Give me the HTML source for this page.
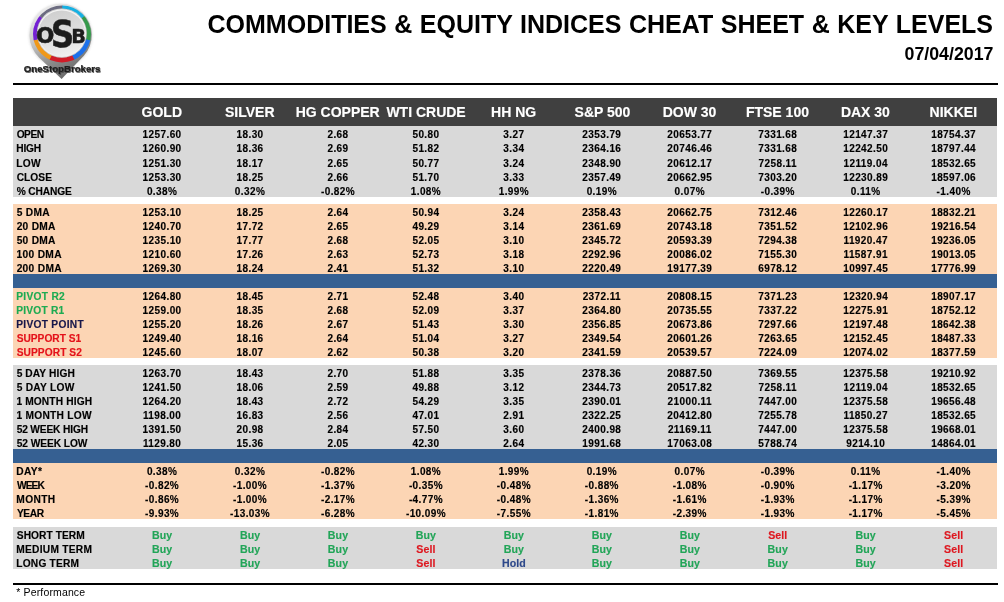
<!DOCTYPE html>
<html lang="en"><head><meta charset="utf-8"><title>Commodities &amp; Equity Indices Cheat Sheet</title>
<style>
html,body{margin:0;padding:0;background:#fff;}
body{width:1004px;height:602px;position:relative;overflow:hidden;font-family:"Liberation Sans",Arial,sans-serif;color:#000;}
.abs{position:absolute;}
.blk{position:absolute;left:13px;width:984px;}
.row{position:absolute;left:0;width:984px;font-weight:bold;font-size:10px;white-space:nowrap;-webkit-text-stroke:0.15px;}
.row span{position:absolute;top:0;}
.lab{left:3.5px;font-size:10.2px;}
.v{width:88px;text-align:center;letter-spacing:0.4px;}
.w{letter-spacing:0.1px;font-size:10.6px;}
.hd{position:absolute;top:0;width:120px;text-align:center;color:#fff;font-weight:bold;font-size:14px;line-height:28px;white-space:nowrap;-webkit-text-stroke:0.15px;}
.g{color:#1dab52;}.r{color:#e4121a;}.b{color:#17174a;}.k{color:#000;}
.Buy{color:#22a558;}.Sell{color:#de1820;}.Hold{color:#2d488a;}
#title{position:absolute;right:11px;top:9px;font-weight:bold;font-size:25px;word-spacing:0.6px;line-height:30px;white-space:nowrap;}
#date{position:absolute;right:10.5px;top:44px;font-weight:bold;font-size:17.8px;line-height:20px;white-space:nowrap;}
#foot{position:absolute;left:16.3px;top:586px;font-size:10.5px;line-height:12px;letter-spacing:0.14px;}
</style></head><body>
<svg class="abs" style="left:0;top:0" width="130" height="84" viewBox="0 0 130 84">
<defs>
<linearGradient id="body" x1="0.1" y1="0" x2="0.55" y2="1"><stop offset="0" stop-color="#f6f6f6"/><stop offset="0.4" stop-color="#c8c8c8"/><stop offset="0.75" stop-color="#8a8a8a"/><stop offset="1" stop-color="#6a6a6a"/></linearGradient>
<linearGradient id="face" x1="0.3" y1="0" x2="0.6" y2="1"><stop offset="0" stop-color="#cfcfcf"/><stop offset="0.55" stop-color="#dedede"/><stop offset="1" stop-color="#f0f0f0"/></linearGradient>
<filter id="sh" x="-20%" y="-40%" width="140%" height="200%"><feGaussianBlur stdDeviation="0.65"/></filter>
<filter id="sh2" x="-20%" y="-20%" width="140%" height="140%"><feGaussianBlur stdDeviation="1.1"/></filter>
</defs>
<circle cx="60.65" cy="35.5" r="31.75" fill="#aaa" opacity="0.35" filter="url(#sh2)"/>
<path d="M39.00 57.40A31.15 31.15 0 1 1 83.60 56.06L61.6 79.1Z" fill="url(#body)"/>
<clipPath id="oc"><ellipse cx="62.0" cy="34.0" rx="29.0" ry="28.4"/></clipPath>
<g clip-path="url(#oc)">
<path d="M62.0 34.0L62.00 -26.00L109.30 -2.92Z" fill="#16b0e2"/>
<path d="M62.0 34.0L108.91 -3.41L120.35 47.96Z" fill="#35994a"/>
<path d="M62.0 34.0L120.50 47.35L87.47 88.33Z" fill="#1c70ea"/>
<path d="M62.0 34.0L88.03 88.06L35.40 87.78Z" fill="#d01c28"/>
<path d="M62.0 34.0L35.97 88.06L3.37 46.74Z" fill="#f09818"/>
<path d="M62.0 34.0L3.50 47.35L15.48 -3.90Z" fill="#7420d4"/>
<path d="M62.0 34.0L15.09 -3.41L62.63 -26.00Z" fill="#6c6c80"/>
</g>
<ellipse cx="61.8" cy="33.1" rx="25.0" ry="24.6" fill="#f4f4f4"/>
<ellipse cx="61.8" cy="33.1" rx="24.7" ry="24.3" fill="none" stroke="#777" stroke-width="0.6" opacity="0.55"/>
<ellipse cx="61.8" cy="33.300000000000004" rx="23.3" ry="22.900000000000002" fill="url(#face)"/>
<g fill="#1c1c1c">
<text transform="translate(36.046 42.677) scale(0.2154 0.2076)" font-family="DejaVu Sans,Liberation Sans,sans-serif" font-weight="bold" font-size="100" stroke-width="3.0" stroke="#1c1c1c">O</text>
<text transform="translate(50.874 47.144) scale(0.3271 0.3778)" font-family="DejaVu Sans,Liberation Sans,sans-serif" font-weight="bold" font-size="100" stroke-width="1.2" stroke="#1c1c1c">S</text>
<text transform="translate(71.352 42.507) scale(0.1935 0.1933)" font-family="DejaVu Sans,Liberation Sans,sans-serif" font-weight="bold" font-size="100" stroke-width="2.0" stroke="#1c1c1c">B</text>
</g>
<text transform="translate(24.611 72.642) scale(0.0964 0.0958)" font-family="Liberation Sans,Liberation Sans,sans-serif" font-weight="bold" font-size="100" stroke-width="2.0" fill="#444" stroke="#444" opacity="0.8" filter="url(#sh)">OneStopBrokers</text>
<text transform="translate(23.811 71.892) scale(0.0964 0.0958)" font-family="Liberation Sans,Liberation Sans,sans-serif" font-weight="bold" font-size="100" stroke-width="2.0" fill="#1e1e1e" stroke="#1e1e1e">OneStopBrokers</text>
</svg>
<div id="title">COMMODITIES &amp; EQUITY INDICES CHEAT SHEET &amp; KEY LEVELS</div>
<div id="date">07/04/2017</div>
<div class="abs" style="left:13px;top:83px;width:985px;height:2px;background:#000"></div>
<div class="blk" style="top:98px;height:28px;background:#404040"><div class="hd" style="left:88.80px">GOLD</div><div class="hd" style="left:176.75px">SILVER</div><div class="hd" style="left:264.70px">HG COPPER</div><div class="hd" style="left:353.05px">WTI CRUDE</div><div class="hd" style="left:440.60px">HH NG</div><div class="hd" style="left:529.45px">S&amp;P 500</div><div class="hd" style="left:616.50px">DOW 30</div><div class="hd" style="left:704.45px">FTSE 100</div><div class="hd" style="left:792.40px">DAX 30</div><div class="hd" style="left:880.35px">NIKKEI</div></div>
<div class="blk" style="top:274px;height:14px;background:#366092"></div>
<div class="blk" style="top:449px;height:14px;background:#366092"></div>
<div class="blk" style="top:126px;height:71px;background:#d9d9d9">
<div class="row" style="top:1.60px;height:14.25px;line-height:13px"><span class="lab k" style="left:3.65px;letter-spacing:-0.467px">OPEN</span><span class="v" style="left:105.10px">1257.60</span><span class="v" style="left:193.05px">18.30</span><span class="v" style="left:281.00px">2.68</span><span class="v" style="left:368.95px">50.80</span><span class="v" style="left:456.90px">3.27</span><span class="v" style="left:544.85px">2353.79</span><span class="v" style="left:632.80px">20653.77</span><span class="v" style="left:720.75px">7331.68</span><span class="v" style="left:808.70px">12147.37</span><span class="v" style="left:896.65px">18754.37</span></div>
<div class="row" style="top:15.60px;height:14.25px;line-height:13px"><span class="lab k" style="left:3.27px;letter-spacing:-0.217px">HIGH</span><span class="v" style="left:105.10px">1260.90</span><span class="v" style="left:193.05px">18.36</span><span class="v" style="left:281.00px">2.69</span><span class="v" style="left:368.95px">51.82</span><span class="v" style="left:456.90px">3.34</span><span class="v" style="left:544.85px">2364.16</span><span class="v" style="left:632.80px">20746.46</span><span class="v" style="left:720.75px">7331.68</span><span class="v" style="left:808.70px">12242.50</span><span class="v" style="left:896.65px">18797.44</span></div>
<div class="row" style="top:31.00px;height:14.25px;line-height:13px"><span class="lab k" style="left:3.27px;letter-spacing:0.275px">LOW</span><span class="v" style="left:105.10px">1251.30</span><span class="v" style="left:193.05px">18.17</span><span class="v" style="left:281.00px">2.65</span><span class="v" style="left:368.95px">50.77</span><span class="v" style="left:456.90px">3.24</span><span class="v" style="left:544.85px">2348.90</span><span class="v" style="left:632.80px">20612.17</span><span class="v" style="left:720.75px">7258.11</span><span class="v" style="left:808.70px">12119.04</span><span class="v" style="left:896.65px">18532.65</span></div>
<div class="row" style="top:44.60px;height:14.25px;line-height:13px"><span class="lab k" style="left:3.65px;letter-spacing:0.069px">CLOSE</span><span class="v" style="left:105.10px">1253.30</span><span class="v" style="left:193.05px">18.25</span><span class="v" style="left:281.00px">2.66</span><span class="v" style="left:368.95px">51.70</span><span class="v" style="left:456.90px">3.33</span><span class="v" style="left:544.85px">2357.49</span><span class="v" style="left:632.80px">20662.95</span><span class="v" style="left:720.75px">7303.20</span><span class="v" style="left:808.70px">12230.89</span><span class="v" style="left:896.65px">18597.06</span></div>
<div class="row" style="top:58.60px;height:14.25px;line-height:13px"><span class="lab k" style="left:3.77px;letter-spacing:-0.146px">% CHANGE</span><span class="v" style="left:105.10px">0.38%</span><span class="v" style="left:193.05px">0.32%</span><span class="v" style="left:281.00px">-0.82%</span><span class="v" style="left:368.95px">1.08%</span><span class="v" style="left:456.90px">1.99%</span><span class="v" style="left:544.85px">0.19%</span><span class="v" style="left:632.80px">0.07%</span><span class="v" style="left:720.75px">-0.39%</span><span class="v" style="left:808.70px">0.11%</span><span class="v" style="left:896.65px">-1.40%</span></div>
</div>
<div class="blk" style="top:204px;height:70px;background:#fcd5b4">
<div class="row" style="top:1.60px;height:14px;line-height:13px"><span class="lab k" style="left:3.65px;letter-spacing:0.312px">5 DMA</span><span class="v" style="left:105.10px">1253.10</span><span class="v" style="left:193.05px">18.25</span><span class="v" style="left:281.00px">2.64</span><span class="v" style="left:368.95px">50.94</span><span class="v" style="left:456.90px">3.24</span><span class="v" style="left:544.85px">2358.43</span><span class="v" style="left:632.80px">20662.75</span><span class="v" style="left:720.75px">7312.46</span><span class="v" style="left:808.70px">12260.17</span><span class="v" style="left:896.65px">18832.21</span></div>
<div class="row" style="top:15.60px;height:14px;line-height:13px"><span class="lab k" style="left:3.65px;letter-spacing:0.280px">20 DMA</span><span class="v" style="left:105.10px">1240.70</span><span class="v" style="left:193.05px">17.72</span><span class="v" style="left:281.00px">2.65</span><span class="v" style="left:368.95px">49.29</span><span class="v" style="left:456.90px">3.14</span><span class="v" style="left:544.85px">2361.69</span><span class="v" style="left:632.80px">20743.18</span><span class="v" style="left:720.75px">7351.52</span><span class="v" style="left:808.70px">12102.96</span><span class="v" style="left:896.65px">19216.54</span></div>
<div class="row" style="top:29.60px;height:14px;line-height:13px"><span class="lab k" style="left:3.65px;letter-spacing:0.280px">50 DMA</span><span class="v" style="left:105.10px">1235.10</span><span class="v" style="left:193.05px">17.77</span><span class="v" style="left:281.00px">2.68</span><span class="v" style="left:368.95px">52.05</span><span class="v" style="left:456.90px">3.10</span><span class="v" style="left:544.85px">2345.72</span><span class="v" style="left:632.80px">20593.39</span><span class="v" style="left:720.75px">7294.38</span><span class="v" style="left:808.70px">11920.47</span><span class="v" style="left:896.65px">19236.05</span></div>
<div class="row" style="top:43.60px;height:14px;line-height:13px"><span class="lab k" style="left:3.40px;letter-spacing:0.354px">100 DMA</span><span class="v" style="left:105.10px">1210.60</span><span class="v" style="left:193.05px">17.26</span><span class="v" style="left:281.00px">2.63</span><span class="v" style="left:368.95px">52.73</span><span class="v" style="left:456.90px">3.18</span><span class="v" style="left:544.85px">2292.96</span><span class="v" style="left:632.80px">20086.02</span><span class="v" style="left:720.75px">7155.30</span><span class="v" style="left:808.70px">11587.91</span><span class="v" style="left:896.65px">19013.05</span></div>
<div class="row" style="top:57.60px;height:14px;line-height:13px"><span class="lab k" style="left:3.65px;letter-spacing:0.312px">200 DMA</span><span class="v" style="left:105.10px">1269.30</span><span class="v" style="left:193.05px">18.24</span><span class="v" style="left:281.00px">2.41</span><span class="v" style="left:368.95px">51.32</span><span class="v" style="left:456.90px">3.10</span><span class="v" style="left:544.85px">2220.49</span><span class="v" style="left:632.80px">19177.39</span><span class="v" style="left:720.75px">6978.12</span><span class="v" style="left:808.70px">10997.45</span><span class="v" style="left:896.65px">17776.99</span></div>
</div>
<div class="blk" style="top:288px;height:70px;background:#fcd5b4">
<div class="row" style="top:1.60px;height:14px;line-height:13px"><span class="lab g" style="left:3.27px;letter-spacing:0.300px">PIVOT R2</span><span class="v" style="left:105.10px">1264.80</span><span class="v" style="left:193.05px">18.45</span><span class="v" style="left:281.00px">2.71</span><span class="v" style="left:368.95px">52.48</span><span class="v" style="left:456.90px">3.40</span><span class="v" style="left:544.85px">2372.11</span><span class="v" style="left:632.80px">20808.15</span><span class="v" style="left:720.75px">7371.23</span><span class="v" style="left:808.70px">12320.94</span><span class="v" style="left:896.65px">18907.17</span></div>
<div class="row" style="top:15.60px;height:14px;line-height:13px"><span class="lab g" style="left:3.27px;letter-spacing:0.225px">PIVOT R1</span><span class="v" style="left:105.10px">1259.00</span><span class="v" style="left:193.05px">18.35</span><span class="v" style="left:281.00px">2.68</span><span class="v" style="left:368.95px">52.09</span><span class="v" style="left:456.90px">3.37</span><span class="v" style="left:544.85px">2364.80</span><span class="v" style="left:632.80px">20735.55</span><span class="v" style="left:720.75px">7337.22</span><span class="v" style="left:808.70px">12275.91</span><span class="v" style="left:896.65px">18752.12</span></div>
<div class="row" style="top:29.60px;height:14px;line-height:13px"><span class="lab b" style="left:3.27px;letter-spacing:0.282px">PIVOT POINT</span><span class="v" style="left:105.10px">1255.20</span><span class="v" style="left:193.05px">18.26</span><span class="v" style="left:281.00px">2.67</span><span class="v" style="left:368.95px">51.43</span><span class="v" style="left:456.90px">3.30</span><span class="v" style="left:544.85px">2356.85</span><span class="v" style="left:632.80px">20673.86</span><span class="v" style="left:720.75px">7297.66</span><span class="v" style="left:808.70px">12197.48</span><span class="v" style="left:896.65px">18642.38</span></div>
<div class="row" style="top:43.60px;height:14px;line-height:13px"><span class="lab r" style="left:3.65px;letter-spacing:0.008px">SUPPORT S1</span><span class="v" style="left:105.10px">1249.40</span><span class="v" style="left:193.05px">18.16</span><span class="v" style="left:281.00px">2.64</span><span class="v" style="left:368.95px">51.04</span><span class="v" style="left:456.90px">3.27</span><span class="v" style="left:544.85px">2349.54</span><span class="v" style="left:632.80px">20601.26</span><span class="v" style="left:720.75px">7263.65</span><span class="v" style="left:808.70px">12152.45</span><span class="v" style="left:896.65px">18487.33</span></div>
<div class="row" style="top:57.60px;height:14px;line-height:13px"><span class="lab r" style="left:3.65px;letter-spacing:0.078px">SUPPORT S2</span><span class="v" style="left:105.10px">1245.60</span><span class="v" style="left:193.05px">18.07</span><span class="v" style="left:281.00px">2.62</span><span class="v" style="left:368.95px">50.38</span><span class="v" style="left:456.90px">3.20</span><span class="v" style="left:544.85px">2341.59</span><span class="v" style="left:632.80px">20539.57</span><span class="v" style="left:720.75px">7224.09</span><span class="v" style="left:808.70px">12074.02</span><span class="v" style="left:896.65px">18377.59</span></div>
</div>
<div class="blk" style="top:365px;height:84px;background:#d9d9d9">
<div class="row" style="top:1.60px;height:14px;line-height:13px"><span class="lab k" style="left:3.65px;letter-spacing:0.114px">5 DAY HIGH</span><span class="v" style="left:105.10px">1263.70</span><span class="v" style="left:193.05px">18.43</span><span class="v" style="left:281.00px">2.70</span><span class="v" style="left:368.95px">51.88</span><span class="v" style="left:456.90px">3.35</span><span class="v" style="left:544.85px">2378.36</span><span class="v" style="left:632.80px">20887.50</span><span class="v" style="left:720.75px">7369.55</span><span class="v" style="left:808.70px">12375.58</span><span class="v" style="left:896.65px">19210.92</span></div>
<div class="row" style="top:15.60px;height:14px;line-height:13px"><span class="lab k" style="left:3.65px;letter-spacing:0.291px">5 DAY LOW</span><span class="v" style="left:105.10px">1241.50</span><span class="v" style="left:193.05px">18.06</span><span class="v" style="left:281.00px">2.59</span><span class="v" style="left:368.95px">49.88</span><span class="v" style="left:456.90px">3.12</span><span class="v" style="left:544.85px">2344.73</span><span class="v" style="left:632.80px">20517.82</span><span class="v" style="left:720.75px">7258.11</span><span class="v" style="left:808.70px">12119.04</span><span class="v" style="left:896.65px">18532.65</span></div>
<div class="row" style="top:29.60px;height:14px;line-height:13px"><span class="lab k" style="left:3.40px;letter-spacing:0.143px">1 MONTH HIGH</span><span class="v" style="left:105.10px">1264.20</span><span class="v" style="left:193.05px">18.43</span><span class="v" style="left:281.00px">2.72</span><span class="v" style="left:368.95px">54.29</span><span class="v" style="left:456.90px">3.35</span><span class="v" style="left:544.85px">2390.01</span><span class="v" style="left:632.80px">21000.11</span><span class="v" style="left:720.75px">7447.00</span><span class="v" style="left:808.70px">12375.58</span><span class="v" style="left:896.65px">19656.48</span></div>
<div class="row" style="top:43.60px;height:14px;line-height:13px"><span class="lab k" style="left:3.40px;letter-spacing:0.270px">1 MONTH LOW</span><span class="v" style="left:105.10px">1198.00</span><span class="v" style="left:193.05px">16.83</span><span class="v" style="left:281.00px">2.56</span><span class="v" style="left:368.95px">47.01</span><span class="v" style="left:456.90px">2.91</span><span class="v" style="left:544.85px">2322.25</span><span class="v" style="left:632.80px">20412.80</span><span class="v" style="left:720.75px">7255.78</span><span class="v" style="left:808.70px">11850.27</span><span class="v" style="left:896.65px">18532.65</span></div>
<div class="row" style="top:57.60px;height:14px;line-height:13px"><span class="lab k" style="left:3.65px;letter-spacing:-0.150px">52 WEEK HIGH</span><span class="v" style="left:105.10px">1391.50</span><span class="v" style="left:193.05px">20.98</span><span class="v" style="left:281.00px">2.84</span><span class="v" style="left:368.95px">57.50</span><span class="v" style="left:456.90px">3.60</span><span class="v" style="left:544.85px">2400.98</span><span class="v" style="left:632.80px">21169.11</span><span class="v" style="left:720.75px">7447.00</span><span class="v" style="left:808.70px">12375.58</span><span class="v" style="left:896.65px">19668.01</span></div>
<div class="row" style="top:71.60px;height:14px;line-height:13px"><span class="lab k" style="left:3.65px;letter-spacing:-0.053px">52 WEEK LOW</span><span class="v" style="left:105.10px">1129.80</span><span class="v" style="left:193.05px">15.36</span><span class="v" style="left:281.00px">2.05</span><span class="v" style="left:368.95px">42.30</span><span class="v" style="left:456.90px">2.64</span><span class="v" style="left:544.85px">1991.68</span><span class="v" style="left:632.80px">17063.08</span><span class="v" style="left:720.75px">5788.74</span><span class="v" style="left:808.70px">9214.10</span><span class="v" style="left:896.65px">14864.01</span></div>
</div>
<div class="blk" style="top:463px;height:56px;background:#fcd5b4">
<div class="row" style="top:1.60px;height:14px;line-height:13px"><span class="lab k" style="left:3.27px;letter-spacing:0.367px">DAY*</span><span class="v" style="left:105.10px">0.38%</span><span class="v" style="left:193.05px">0.32%</span><span class="v" style="left:281.00px">-0.82%</span><span class="v" style="left:368.95px">1.08%</span><span class="v" style="left:456.90px">1.99%</span><span class="v" style="left:544.85px">0.19%</span><span class="v" style="left:632.80px">0.07%</span><span class="v" style="left:720.75px">-0.39%</span><span class="v" style="left:808.70px">0.11%</span><span class="v" style="left:896.65px">-1.40%</span></div>
<div class="row" style="top:15.60px;height:14px;line-height:13px"><span class="lab k" style="left:4.02px;letter-spacing:-0.917px">WEEK</span><span class="v" style="left:105.10px">-0.82%</span><span class="v" style="left:193.05px">-1.00%</span><span class="v" style="left:281.00px">-1.37%</span><span class="v" style="left:368.95px">-0.35%</span><span class="v" style="left:456.90px">-0.48%</span><span class="v" style="left:544.85px">-0.88%</span><span class="v" style="left:632.80px">-1.08%</span><span class="v" style="left:720.75px">-0.90%</span><span class="v" style="left:808.70px">-1.17%</span><span class="v" style="left:896.65px">-3.20%</span></div>
<div class="row" style="top:29.60px;height:14px;line-height:13px"><span class="lab k" style="left:3.27px;letter-spacing:0.394px">MONTH</span><span class="v" style="left:105.10px">-0.86%</span><span class="v" style="left:193.05px">-1.00%</span><span class="v" style="left:281.00px">-2.17%</span><span class="v" style="left:368.95px">-4.77%</span><span class="v" style="left:456.90px">-0.48%</span><span class="v" style="left:544.85px">-1.36%</span><span class="v" style="left:632.80px">-1.61%</span><span class="v" style="left:720.75px">-1.93%</span><span class="v" style="left:808.70px">-1.17%</span><span class="v" style="left:896.65px">-5.39%</span></div>
<div class="row" style="top:43.60px;height:14px;line-height:13px"><span class="lab k" style="left:3.90px;letter-spacing:-0.383px">YEAR</span><span class="v" style="left:105.10px">-9.93%</span><span class="v" style="left:193.05px">-13.03%</span><span class="v" style="left:281.00px">-6.28%</span><span class="v" style="left:368.95px">-10.09%</span><span class="v" style="left:456.90px">-7.55%</span><span class="v" style="left:544.85px">-1.81%</span><span class="v" style="left:632.80px">-2.39%</span><span class="v" style="left:720.75px">-1.93%</span><span class="v" style="left:808.70px">-1.17%</span><span class="v" style="left:896.65px">-5.45%</span></div>
</div>
<div class="blk" style="top:527px;height:42px;background:#d9d9d9">
<div class="row" style="top:1.60px;height:14px;line-height:13px"><span class="lab k" style="left:3.77px;letter-spacing:0.075px">SHORT TERM</span><span class="v w Buy" style="left:105.10px">Buy</span><span class="v w Buy" style="left:193.05px">Buy</span><span class="v w Buy" style="left:281.00px">Buy</span><span class="v w Buy" style="left:368.95px">Buy</span><span class="v w Buy" style="left:456.90px">Buy</span><span class="v w Buy" style="left:544.85px">Buy</span><span class="v w Buy" style="left:632.80px">Buy</span><span class="v w Sell" style="left:720.75px">Sell</span><span class="v w Buy" style="left:808.70px">Buy</span><span class="v w Sell" style="left:896.65px">Sell</span></div>
<div class="row" style="top:15.60px;height:14px;line-height:13px"><span class="lab k" style="left:3.27px;letter-spacing:0.272px">MEDIUM TERM</span><span class="v w Buy" style="left:105.10px">Buy</span><span class="v w Buy" style="left:193.05px">Buy</span><span class="v w Buy" style="left:281.00px">Buy</span><span class="v w Sell" style="left:368.95px">Sell</span><span class="v w Buy" style="left:456.90px">Buy</span><span class="v w Buy" style="left:544.85px">Buy</span><span class="v w Buy" style="left:632.80px">Buy</span><span class="v w Buy" style="left:720.75px">Buy</span><span class="v w Buy" style="left:808.70px">Buy</span><span class="v w Sell" style="left:896.65px">Sell</span></div>
<div class="row" style="top:29.60px;height:14px;line-height:13px"><span class="lab k" style="left:3.27px;letter-spacing:0.203px">LONG TERM</span><span class="v w Buy" style="left:105.10px">Buy</span><span class="v w Buy" style="left:193.05px">Buy</span><span class="v w Buy" style="left:281.00px">Buy</span><span class="v w Sell" style="left:368.95px">Sell</span><span class="v w Hold" style="left:456.90px">Hold</span><span class="v w Buy" style="left:544.85px">Buy</span><span class="v w Buy" style="left:632.80px">Buy</span><span class="v w Buy" style="left:720.75px">Buy</span><span class="v w Buy" style="left:808.70px">Buy</span><span class="v w Sell" style="left:896.65px">Sell</span></div>
</div>
<div class="abs" style="left:13px;top:583px;width:985px;height:2px;background:#000"></div>
<div id="foot">* Performance</div>
</body></html>
